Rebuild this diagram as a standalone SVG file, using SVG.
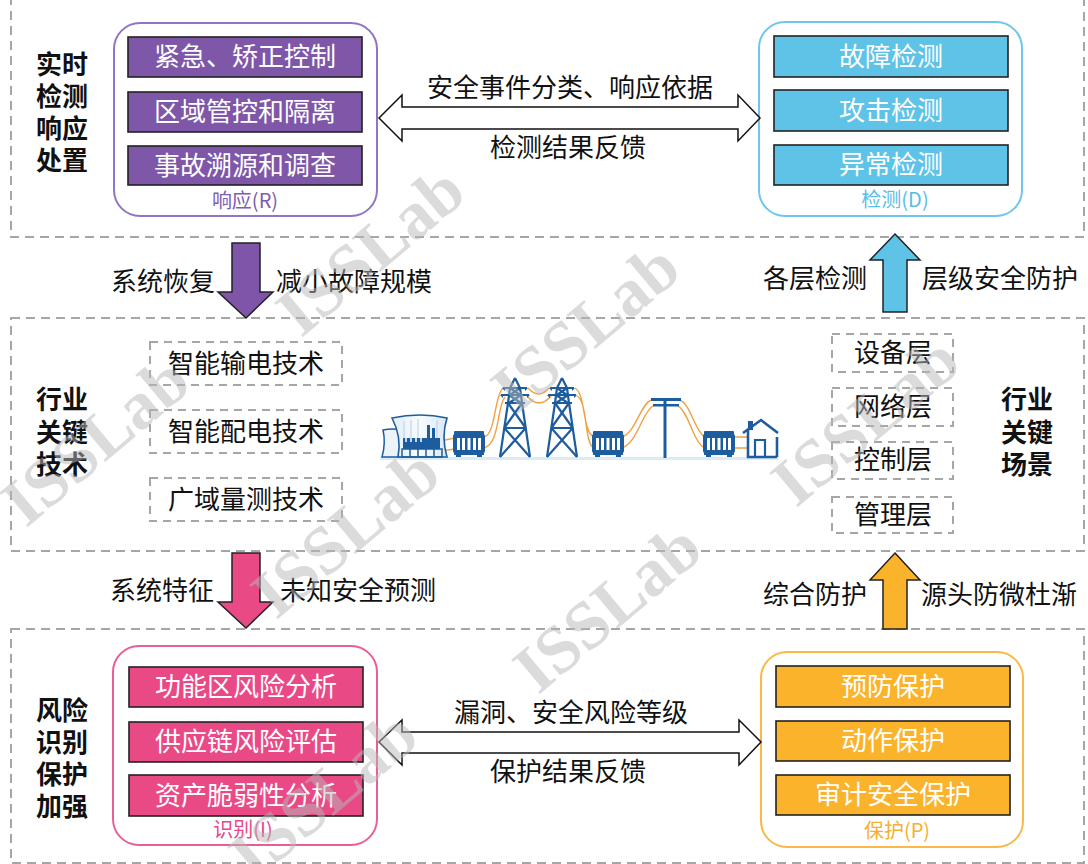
<svg xmlns="http://www.w3.org/2000/svg" width="1088" height="864" viewBox="0 0 1088 864">
  <style>
    text { font-family: "Noto Sans CJK SC", "Noto Sans", sans-serif; }
    .panel { fill: none; stroke: #a6a6a6; stroke-width: 2; stroke-dasharray: 9 6; }
    .dbox { fill: #ffffff; stroke: #a6a6a6; stroke-width: 2; stroke-dasharray: 8 6; }
    .side { font-size: 26px; font-weight: 700; fill: #111111; text-anchor: middle; }
    .lbl { font-size: 26px; fill: #111111; }
    .mid { text-anchor: middle; }
    .end { text-anchor: end; }
    .item { font-size: 26px; fill: #ffffff; text-anchor: middle; }
    .cap { font-size: 20px; text-anchor: middle; }
    .bar { stroke: #222222; stroke-width: 1.6; }
    .dbl { fill: #ffffff; stroke: #111111; stroke-width: 1.5; stroke-linejoin: miter; }
    .blk { stroke: #222222; stroke-width: 1.5; }
    .wire { fill: none; stroke: #f0a141; stroke-width: 1.4; }
    .steel { fill: none; stroke: #1d5c9e; stroke-width: 2.2; stroke-linejoin: round; }
    .wm { font-family: "Liberation Serif", serif; font-weight: 700; font-size: 68px; fill: #b8b8b8; opacity: 0.5; text-anchor: middle; }
  </style>
  <defs>
    <symbol id="xfmr" viewBox="0 0 32 26" width="32" height="26">
      <rect x="1" y="0" width="30" height="4" rx="1" fill="#1d5c9e"/>
      <rect x="0" y="3" width="32" height="19" rx="2" fill="#1d5c9e"/>
      <rect x="4" y="7" width="3" height="12" fill="#ffffff"/>
      <rect x="9" y="7" width="3" height="12" fill="#ffffff"/>
      <rect x="14.5" y="7" width="3" height="12" fill="#ffffff"/>
      <rect x="20" y="7" width="3" height="12" fill="#ffffff"/>
      <rect x="25" y="7" width="3" height="12" fill="#ffffff"/>
      <rect x="1" y="21" width="30" height="3" fill="#1d5c9e"/>
      <rect x="3" y="23" width="5" height="3" fill="#1d5c9e"/>
      <rect x="24" y="23" width="5" height="3" fill="#1d5c9e"/>
    </symbol>
    <symbol id="tower" viewBox="0 0 32 80" width="32" height="80" overflow="visible">
      <path class="steel" d="M16,0 L11,10 L9,25 L1,79 M16,0 L21,10 L23,25 L31,79"/>
      <path class="steel" d="M4,10 L28,10 M2,17 L30,17 M6,25 L26,25 M5.3,50 L26.7,50"/>
      <path class="steel" stroke-width="1.6" d="M11,10 L21,17 M21,10 L11,17 M10,17 L22,25 M22,17 L10,25 M9,25 L26.7,50 M23,25 L5.3,50 M5.3,50 L31,79 M26.7,50 L1,79"/>
      <path fill="#1d5c9e" d="M3,10 L6,13 L6,10 Z M29,10 L26,13 L26,10 Z M1,17 L4,20 L4,17 Z M31,17 L28,20 L28,17 Z"/>
    </symbol>
    <linearGradient id="plantGlass" x1="0" y1="0" x2="1" y2="0">
      <stop offset="0" stop-color="#e3eef8"/>
      <stop offset="0.5" stop-color="#f8fbfe"/>
      <stop offset="1" stop-color="#dbe8f5"/>
    </linearGradient>
  </defs>

  <rect width="1088" height="864" fill="#ffffff"/>

  <!-- three dashed layer panels -->
  <g id="panels">
    <rect class="panel" x="11" y="-10" width="1073" height="247"/>
    <rect class="panel" x="11" y="318" width="1073" height="233"/>
    <rect class="panel" x="11" y="629" width="1073" height="234"/>
  </g>

  <!-- side titles, one stacked text each -->
  <g id="title-top">
    <text class="side" x="62" y="74">实时<tspan x="62" dy="32">检测</tspan><tspan x="62" dy="32">响应</tspan><tspan x="62" dy="32">处置</tspan></text>
  </g>
  <g id="title-mid-left">
    <text class="side" x="62" y="409">行业<tspan x="62" dy="33">关键</tspan><tspan x="62" dy="32">技术</tspan></text>
  </g>
  <g id="title-mid-right">
    <text class="side" x="1027" y="409">行业<tspan x="1027" dy="33">关键</tspan><tspan x="1027" dy="32">场景</tspan></text>
  </g>
  <g id="title-bottom">
    <text class="side" x="62" y="720">风险<tspan x="62" dy="32">识别</tspan><tspan x="62" dy="32">保护</tspan><tspan x="62" dy="32">加强</tspan></text>
  </g>

  <!-- Response (R) -->
  <g id="node-response">
    <rect x="114" y="23" width="263" height="193" rx="26" fill="#ffffff" stroke="#9274c4" stroke-width="2"/>
    <rect class="bar" x="128" y="37" width="234" height="40" fill="#7e57a8"/>
    <rect class="bar" x="128" y="92" width="234" height="40" fill="#7e57a8"/>
    <rect class="bar" x="128" y="146" width="234" height="39" fill="#7e57a8"/>
    <text class="item" x="245" y="66">紧急、矫正控制</text>
    <text class="item" x="245" y="121">区域管控和隔离</text>
    <text class="item" x="245" y="175">事故溯源和调查</text>
    <text class="cap" x="245" y="208" fill="#7d5db5">响应(R)</text>
  </g>

  <!-- Detection (D) -->
  <g id="node-detect">
    <rect x="759" y="22" width="263" height="194" rx="26" fill="#ffffff" stroke="#6ec6ea" stroke-width="2"/>
    <rect class="bar" x="774" y="36" width="234" height="41" fill="#5fc3e8"/>
    <rect class="bar" x="774" y="90" width="234" height="41" fill="#5fc3e8"/>
    <rect class="bar" x="774" y="145" width="234" height="40" fill="#5fc3e8"/>
    <text class="item" x="891" y="66">故障检测</text>
    <text class="item" x="891" y="120">攻击检测</text>
    <text class="item" x="891" y="174">异常检测</text>
    <text class="cap" x="895" y="207" fill="#5bbde6">检测(D)</text>
  </g>

  <!-- Key technologies -->
  <g id="node-tech">
    <rect class="dbox" x="150" y="342" width="192" height="43"/>
    <rect class="dbox" x="150" y="410" width="192" height="43"/>
    <rect class="dbox" x="150" y="478" width="192" height="43"/>
    <text class="lbl mid" x="246" y="373">智能输电技术</text>
    <text class="lbl mid" x="246" y="441">智能配电技术</text>
    <text class="lbl mid" x="246" y="509">广域量测技术</text>
  </g>

  <!-- Scenario layers -->
  <g id="node-layers">
    <rect class="dbox" x="832" y="334" width="121" height="38"/>
    <rect class="dbox" x="832" y="388" width="121" height="38"/>
    <rect class="dbox" x="832" y="442" width="121" height="37"/>
    <rect class="dbox" x="832" y="497" width="121" height="36"/>
    <text class="lbl mid" x="893" y="362">设备层</text>
    <text class="lbl mid" x="893" y="416">网络层</text>
    <text class="lbl mid" x="893" y="469">控制层</text>
    <text class="lbl mid" x="893" y="524">管理层</text>
  </g>

  <!-- Power grid: generation, transmission, distribution, consumer -->
  <g id="node-grid">
    <rect x="380" y="457" width="398" height="3" fill="#dcecf7"/>
    <!-- wires -->
    <path class="wire" d="M440,441 L455,438 M440,451 L455,449"/>
    <path class="wire" d="M484,437 C496,434 494,396 503,388 M484,448 C500,444 497,405 505,397"/>
    <path class="wire" d="M528,388 Q539,400 549,388 M527,396 Q539,410 551,396"/>
    <path class="wire" d="M575,388 C586,394 582,432 594,437 M577,396 C588,402 584,444 594,448"/>
    <path class="wire" d="M622,437 C636,432 640,405 651,400 M622,448 C638,442 642,412 653,406"/>
    <path class="wire" d="M680,400 C691,405 695,432 705,437 M678,406 C689,412 693,443 705,448"/>
    <path class="wire" d="M735,437 L748,437 M735,448 L748,448"/>
    <!-- power plant -->
    <path d="M383,430 Q392,428 402,430 L401,457 L382,457 Q386,443 383,430 Z" fill="#eef3f8" stroke="#1d5c9e" stroke-width="1.5"/>
    <path d="M392,418 Q420,412 447,418 Q441,437 447,457 L398,457 Q402,437 392,418 Z" fill="url(#plantGlass)" stroke="#1d5c9e" stroke-width="1.6"/>
    <path d="M404,421 L404,438 M411,420 L411,438 M418,419 L418,438 M437,420 L437,438" stroke="#b9cfe4" stroke-width="1"/>
    <rect x="427" y="425" width="3" height="14" fill="#1d5c9e"/>
    <rect x="432" y="428" width="3" height="11" fill="#1d5c9e"/>
    <rect x="403" y="438" width="37" height="11" fill="#1d5c9e"/>
    <path d="M406,438 L406,442 M411,438 L411,442 M416,438 L416,442 M421,438 L421,442" stroke="#ffffff" stroke-width="1.5"/>
    <rect x="402" y="449" width="40" height="8" fill="none" stroke="#1d5c9e" stroke-width="1.5"/>
    <path d="M410,449 L410,457 M418,449 L418,457 M426,449 L426,457 M434,449 L434,457" stroke="#1d5c9e" stroke-width="1.5"/>
    <!-- transformers -->
    <use href="#xfmr" x="453" y="431"/>
    <use href="#xfmr" x="592" y="431"/>
    <use href="#xfmr" x="703" y="431"/>
    <!-- lattice towers -->
    <use href="#tower" x="499" y="378"/>
    <use href="#tower" x="546" y="378"/>
    <!-- distribution pole -->
    <rect x="651" y="398" width="30" height="3" fill="#1d5c9e"/>
    <rect x="653" y="404" width="26" height="2.5" fill="#1d5c9e"/>
    <rect x="663.5" y="398" width="3" height="60" fill="#1d5c9e"/>
    <!-- house -->
    <rect x="748" y="421" width="5" height="9" fill="#1d5c9e"/>
    <path d="M743,433 L761,420 L778,433" fill="none" stroke="#1d5c9e" stroke-width="2.6"/>
    <path d="M748,430 L748,457 L777,457 M777,437 L777,457" fill="none" stroke="#1d5c9e" stroke-width="2.6"/>
    <path d="M755,457 L755,440 L765,440 L765,457" fill="none" stroke="#1d5c9e" stroke-width="2.2"/>
  </g>

  <!-- Identification (I) -->
  <g id="node-identify">
    <rect x="113" y="646" width="264" height="199" rx="26" fill="#ffffff" stroke="#ea5e97" stroke-width="2"/>
    <rect class="bar" x="129" y="667" width="234" height="40" fill="#e94a86"/>
    <rect class="bar" x="129" y="722" width="234" height="40" fill="#e94a86"/>
    <rect class="bar" x="129" y="775" width="234" height="41" fill="#e94a86"/>
    <text class="item" x="246" y="696">功能区风险分析</text>
    <text class="item" x="246" y="751">供应链风险评估</text>
    <text class="item" x="246" y="805">资产脆弱性分析</text>
    <text class="cap" x="243" y="837" fill="#e6478a">识别(I)</text>
  </g>

  <!-- Protection (P) -->
  <g id="node-protect">
    <rect x="761" y="652" width="262" height="195" rx="26" fill="#ffffff" stroke="#fbb846" stroke-width="2"/>
    <rect class="bar" x="776" y="666" width="234" height="41" fill="#fbb32b"/>
    <rect class="bar" x="776" y="721" width="234" height="40" fill="#fbb32b"/>
    <rect class="bar" x="776" y="775" width="234" height="40" fill="#fbb32b"/>
    <text class="item" x="893" y="696">预防保护</text>
    <text class="item" x="893" y="750">动作保护</text>
    <text class="item" x="893" y="804">审计安全保护</text>
    <text class="cap" x="897" y="838" fill="#f6b030">保护(P)</text>
  </g>

  <!-- connectors between the stages -->
  <g id="connectors">
    <path class="dbl" d="M379,118 L402,95 L402,107 L738,107 L738,95 L760,118 L738,141 L738,129 L402,129 L402,141 Z"/>
    <text class="lbl mid" x="570" y="97">安全事件分类、响应依据</text>
    <text class="lbl mid" x="568" y="157">检测结果反馈</text>

    <path class="dbl" d="M379,742 L402,720 L402,732 L739,732 L739,720 L761,742 L739,765 L739,753 L402,753 L402,765 Z"/>
    <text class="lbl mid" x="571" y="722">漏洞、安全风险等级</text>
    <text class="lbl mid" x="568" y="781">保护结果反馈</text>

    <path class="blk" fill="#7e55a8" d="M232,243 L260,243 L260,292 L273,292 L246,318 L218,292 L232,292 Z"/>
    <text class="lbl end" x="215" y="291">系统恢复</text>
    <text class="lbl" x="276" y="291">减小故障规模</text>

    <path class="blk" fill="#5fc3e8" d="M895,234 L920,260 L907,260 L907,312 L883,312 L883,260 L870,260 Z"/>
    <text class="lbl end" x="867" y="288">各层检测</text>
    <text class="lbl" x="922" y="288">层级安全防护</text>

    <path class="blk" fill="#e94a86" d="M232,553 L260,553 L260,602 L273,602 L246,628 L218,602 L232,602 Z"/>
    <text class="lbl end" x="214" y="600">系统特征</text>
    <text class="lbl" x="280" y="600">未知安全预测</text>

    <path class="blk" fill="#fbb32b" d="M895,553 L920,580 L907,580 L907,629 L883,629 L883,580 L870,580 Z"/>
    <text class="lbl end" x="867" y="604">综合防护</text>
    <text class="lbl" x="921" y="604">源头防微杜渐</text>
  </g>

  <!-- lab watermark -->
  <g id="watermark">
    <text class="wm" transform="translate(110,458) rotate(-40)">ISSLab</text>
    <text class="wm" transform="translate(385,268) rotate(-40)">ISSLab</text>
    <text class="wm" transform="translate(600,345) rotate(-40)">ISSLab</text>
    <text class="wm" transform="translate(360,550) rotate(-40)">ISSLab</text>
    <text class="wm" transform="translate(880,438) rotate(-40)">ISSLab</text>
    <text class="wm" transform="translate(622,625) rotate(-40)">ISSLab</text>
    <text class="wm" transform="translate(338,812) rotate(-40)">ISSLab</text>
  </g>
</svg>
